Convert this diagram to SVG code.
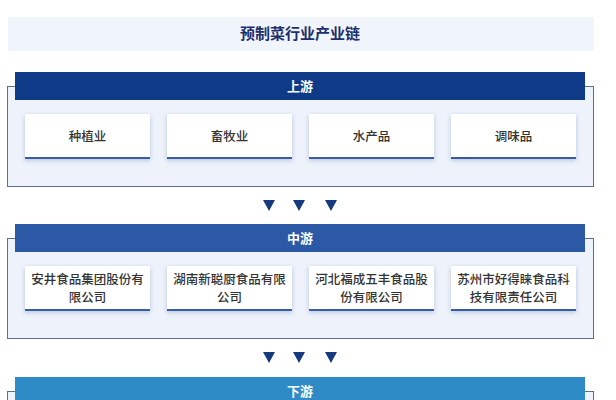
<svg xmlns="http://www.w3.org/2000/svg" width="616" height="400" viewBox="0 0 616 400">
<defs>
<style>
.box{fill:#edf2fb;stroke:#5b6f8e;stroke-width:1}
.card{fill:#ffffff}
.cardline{fill:#3a5ca6}
.ct{font-family:"Noto Sans CJK SC","Noto Sans CJK JP",sans-serif;font-size:12.5px;font-weight:500;fill:#333333;text-anchor:middle}
.ht{font-family:"Noto Sans CJK SC","Noto Sans CJK JP",sans-serif;font-size:13px;font-weight:700;fill:#ffffff;text-anchor:middle}
.arr{fill:#173a7c}
</style>
<filter id="sh" x="-10%" y="-20%" width="120%" height="150%">
<feDropShadow dx="0" dy="1.5" stdDeviation="2" flood-color="#1a3a7a" flood-opacity="0.25"/>
</filter>
</defs>
<rect width="616" height="400" fill="#ffffff"/>
<g id="title">
<rect x="8" y="17" width="586" height="34" fill="#f0f5fc"/>
<text x="300" y="39" font-family="'Noto Sans CJK SC','Noto Sans CJK JP',sans-serif" font-size="15" font-weight="700" fill="#1d2f6e" text-anchor="middle">预制菜行业产业链</text>
</g>
<g id="upstream">
<rect class="box" x="7.5" y="86.5" width="586" height="100"/>
<rect x="15" y="72" width="570" height="28" fill="#0f3a87"/>
<text class="ht" x="300" y="91">上游</text>
</g>
<g id="up1"><rect class="card" x="25" y="114" width="125" height="45" filter="url(#sh)"/><rect class="cardline" x="25" y="157" width="125" height="2"/><text class="ct" x="87.5" y="141">种植业</text></g>
<g id="up2"><rect class="card" x="167" y="114" width="125" height="45" filter="url(#sh)"/><rect class="cardline" x="167" y="157" width="125" height="2"/><text class="ct" x="229.5" y="141">畜牧业</text></g>
<g id="up3"><rect class="card" x="309" y="114" width="125" height="45" filter="url(#sh)"/><rect class="cardline" x="309" y="157" width="125" height="2"/><text class="ct" x="371.5" y="141">水产品</text></g>
<g id="up4"><rect class="card" x="451" y="114" width="125" height="45" filter="url(#sh)"/><rect class="cardline" x="451" y="157" width="125" height="2"/><text class="ct" x="513.5" y="141">调味品</text></g>
<g id="midstream">
<rect class="box" x="7.5" y="238.5" width="586" height="100"/>
<rect x="15" y="224" width="570" height="28" fill="#2c59a6"/>
<text class="ht" x="300" y="243">中游</text>
</g>
<g id="mid1"><rect class="card" x="25" y="266" width="125" height="45" filter="url(#sh)"/><rect class="cardline" x="25" y="309" width="125" height="2"/><text class="ct" x="87.5" y="284">安井食品集团股份有</text><text class="ct" x="87.5" y="302">限公司</text></g>
<g id="mid2"><rect class="card" x="167" y="266" width="125" height="45" filter="url(#sh)"/><rect class="cardline" x="167" y="309" width="125" height="2"/><text class="ct" x="229.5" y="284">湖南新聪厨食品有限</text><text class="ct" x="229.5" y="302">公司</text></g>
<g id="mid3"><rect class="card" x="309" y="266" width="125" height="45" filter="url(#sh)"/><rect class="cardline" x="309" y="309" width="125" height="2"/><text class="ct" x="371.5" y="284">河北福成五丰食品股</text><text class="ct" x="371.5" y="302">份有限公司</text></g>
<g id="mid4"><rect class="card" x="451" y="266" width="125" height="45" filter="url(#sh)"/><rect class="cardline" x="451" y="309" width="125" height="2"/><text class="ct" x="513.5" y="284">苏州市好得睐食品科</text><text class="ct" x="513.5" y="302">技有限责任公司</text></g>
<g id="downstream">
<rect class="box" x="7.5" y="391.5" width="586" height="100"/>
<rect x="15" y="377" width="570" height="28" fill="#2e8bc5"/>
<text class="ht" x="300" y="396">下游</text>
</g>
<g id="connectors">
<polygon class="arr" points="263,200 275,200 269,211"/>
<polygon class="arr" points="293,200 305,200 299,211"/>
<polygon class="arr" points="325,200 337,200 331,211"/>
<polygon class="arr" points="263,352 275,352 269,363"/>
<polygon class="arr" points="293,352 305,352 299,363"/>
<polygon class="arr" points="325,352 337,352 331,363"/>
</g>
</svg>
